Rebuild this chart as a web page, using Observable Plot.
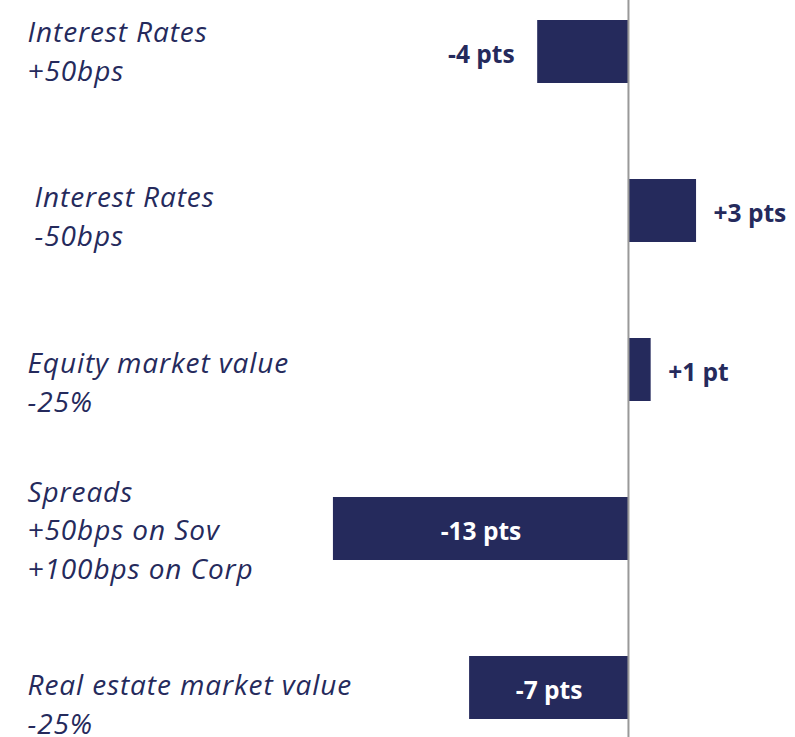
<!DOCTYPE html>
<html>
<head>
<meta charset="utf-8">
<script src="https://cdn.jsdelivr.net/npm/d3@7"></script>
<script src="https://cdn.jsdelivr.net/npm/@observablehq/plot@0.6"></script>
<style>
  html, body { margin: 0; padding: 0; background: #fff; }
  #chart svg { display: block; }
  #chart g[font-style="italic"] { letter-spacing: 0.9px; }
</style>
</head>
<body>
<div id="chart"></div>
<script>
const categories = [
  "Interest Rates\n+50bps",
  "Interest Rates\n-50bps",
  "Equity market value\n-25%",
  "Spreads\n+50bps on Sov\n+100bps on Corp",
  "Real estate market value\n-25%"
];
const values = [-4, 3, 1, -13, -7];
const valueLabels = ["-4 pts", "+3 pts", "+1 pt", "-13 pts", "-7 pts"];

const data = categories.map((c, i) => ({cat: c, value: values[i], label: valueLabels[i], idx: i}));

const navy = "#252a5c";
const font = "'Open Sans', sans-serif";

const inside = d => d.value <= -7;
const outsideNeg = d => d.value < 0 && d.value > -7;
const outsidePos = d => d.value > 0;

const catMark = (i, dx, dy) => Plot.text(data.filter(d => d.idx === i), {
  y: "cat", text: "cat", frameAnchor: "left", textAnchor: "start", lineAnchor: "middle",
  dx, dy, fill: navy, fontSize: 28, fontStyle: "italic", fontFamily: font, lineHeight: 38.5 / 28
});

const valStyle = {fontSize: 24.5, fontWeight: "bold", fontFamily: font, dy: 3};

const chart = Plot.plot({
  width: 795,
  height: 737,
  margin: 0,
  style: {fontFamily: font, background: "#fff"},
  x: {domain: [-27.67, 7.36], axis: null},
  y: {domain: categories, range: [-29.8, 768.3], paddingInner: 0.605, paddingOuter: 0.3025, axis: null},
  marks: [
    Plot.barX(data, {x: "value", y: "cat", fill: navy}),
    Plot.ruleX([0], {stroke: "#999", strokeWidth: 2}),
    Plot.text(data.filter(inside), {x: d => d.value / 2, y: "cat", text: "label", fill: "#fff", ...valStyle}),
    Plot.text(data.filter(outsideNeg), {x: "value", y: "cat", text: "label", textAnchor: "end", dx: -23, fill: navy, ...valStyle}),
    Plot.text(data.filter(outsidePos), {x: "value", y: "cat", text: "label", textAnchor: "start", dx: 17, fill: navy, ...valStyle}),
    catMark(0, 27, -3),
    catMark(1, 34, 3),
    catMark(2, 27, 10),
    catMark(3, 27, -1),
    catMark(4, 27, 14)
  ]
});
document.getElementById("chart").appendChild(chart);
</script>
</body>
</html>
